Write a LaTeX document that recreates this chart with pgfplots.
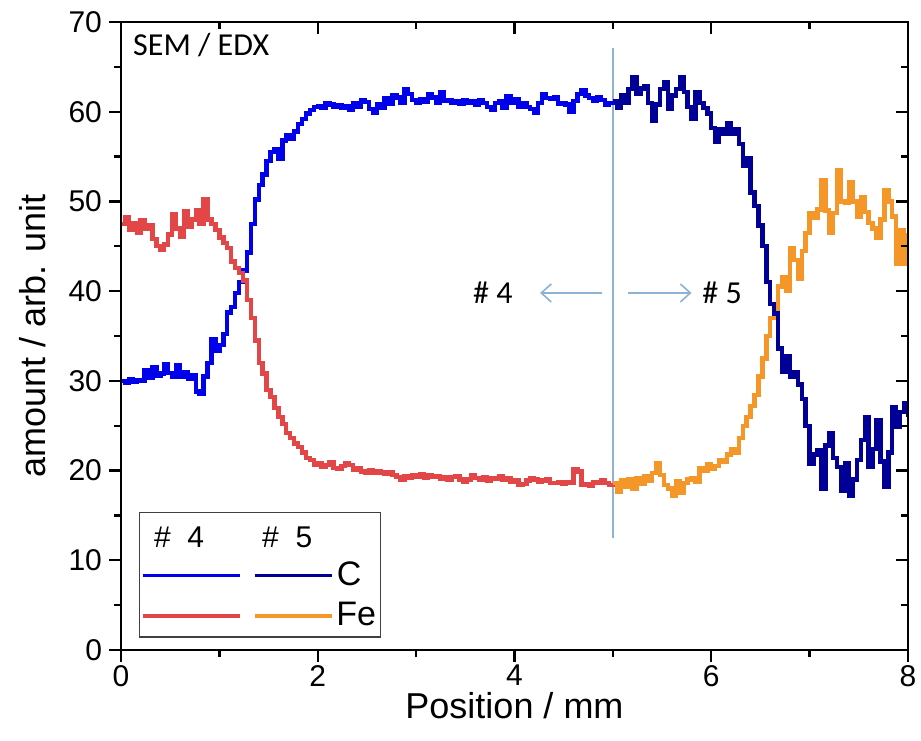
\documentclass[border=0pt]{standalone}
\usepackage{fontspec}
\setmainfont{Liberation Sans}
\newfontfamily\calfont{Carlito}
\usepackage{pgfplots}
\usepackage{pgfplotstable}
\pgfplotsset{compat=1.18}
\usetikzlibrary{arrows.meta}

\definecolor{cfour}{RGB}{0,0,235}
\definecolor{cfive}{RGB}{0,0,150}
\definecolor{ffour}{RGB}{226,70,70}
\definecolor{ffive}{RGB}{245,150,40}
\definecolor{vline}{RGB}{140,178,212}

\pgfplotstableread{
x C Fe
0.00 30.0 47.5
0.04 29.8 48.2
0.08 30.2 46.8
0.12 29.9 47.6
0.16 30.1 46.5
0.20 30.0 47.9
0.24 31.2 46.9
0.28 30.3 47.4
0.32 31.5 45.8
0.36 30.6 45.0
0.40 30.8 44.6
0.44 31.9 45.2
0.48 30.9 46.3
0.52 30.4 48.6
0.56 31.8 47.0
0.60 30.5 46.1
0.64 31.0 48.9
0.68 30.2 47.2
0.72 30.6 48.0
0.76 28.8 49.0
0.80 28.6 47.5
0.84 30.5 50.2
0.88 32.0 48.0
0.92 34.6 47.5
0.96 33.4 46.8
1.00 34.0 46.0
1.04 35.2 45.4
1.08 37.6 44.8
1.12 38.2 43.3
1.16 39.8 42.6
1.20 41.0 42.0
1.24 42.3 41.2
1.28 44.3 39.0
1.32 47.5 37.0
1.36 50.2 34.5
1.40 51.8 32.0
1.44 53.0 30.8
1.48 54.5 29.0
1.52 55.5 28.2
1.56 55.8 27.0
1.60 54.8 26.0
1.64 56.8 25.2
1.68 57.4 24.2
1.72 57.0 23.6
1.76 57.8 23.0
1.80 58.6 22.6
1.84 59.2 22.0
1.88 59.8 21.4
1.92 60.2 21.2
1.96 60.5 20.6
2.00 60.6 20.8
2.04 60.4 20.4
2.08 61.0 20.6
2.12 60.8 20.9
2.16 60.5 20.3
2.20 60.7 20.2
2.24 60.4 20.5
2.28 60.6 20.8
2.32 60.2 20.6
2.36 60.9 20.1
2.40 60.6 20.3
2.44 61.3 19.9
2.48 61.1 19.8
2.52 60.3 20.0
2.56 59.9 19.7
2.60 60.8 19.9
2.64 60.4 19.8
2.68 61.5 19.6
2.72 60.9 19.8
2.76 61.8 19.5
2.80 61.6 19.3
2.84 61.0 19.0
2.88 62.5 19.4
2.92 62.0 19.2
2.96 61.3 19.5
3.00 61.0 19.3
3.04 61.4 19.6
3.08 61.1 19.2
3.12 62.0 19.5
3.16 61.6 19.3
3.20 61.0 19.4
3.24 62.2 19.1
3.28 61.2 19.3
3.32 61.3 19.0
3.36 61.0 19.3
3.40 61.2 19.4
3.44 60.9 19.0
3.48 61.3 18.7
3.52 61.0 19.0
3.56 61.2 19.5
3.60 60.8 19.2
3.64 61.3 19.0
3.68 61.0 19.3
3.72 60.5 18.9
3.76 60.2 19.2
3.80 61.0 19.1
3.84 61.2 19.4
3.88 60.4 19.0
3.92 61.7 19.2
3.96 61.0 18.8
4.00 61.4 18.9
4.04 60.6 18.4
4.08 61.0 18.5
4.12 60.5 18.9
4.16 60.3 19.2
4.20 59.9 19.0
4.24 61.0 18.7
4.28 61.9 18.9
4.32 61.5 19.0
4.36 61.4 18.6
4.40 61.6 18.6
4.44 60.9 18.7
4.48 61.0 18.5
4.52 60.8 18.7
4.56 60.0 18.6
4.60 61.2 20.1
4.64 62.0 19.9
4.68 62.4 18.4
4.72 61.8 18.5
4.76 61.5 18.3
4.80 61.2 18.7
4.84 61.6 18.6
4.88 61.3 18.9
4.92 60.8 18.6
4.96 61.0 18.4
5.00 61.2 18.6
}\sfour

\pgfplotstableread{
x C Fe
5.00 61.2 18.6
5.04 60.4 17.6
5.08 61.8 18.9
5.12 61.0 18.2
5.16 62.5 19.0
5.20 63.8 18.0
5.24 62.0 19.2
5.28 62.6 18.5
5.32 62.8 19.4
5.36 61.0 18.9
5.40 59.0 19.7
5.44 60.8 20.8
5.48 62.5 19.5
5.52 63.3 18.4
5.56 60.3 18.0
5.60 61.8 17.2
5.64 62.5 18.8
5.68 63.9 17.5
5.72 62.2 18.6
5.76 60.5 19.0
5.80 59.2 19.2
5.84 62.2 18.8
5.88 61.0 20.3
5.92 60.4 20.0
5.96 59.8 20.7
6.00 58.2 20.2
6.04 56.6 20.5
6.08 58.0 21.2
6.12 57.5 21.0
6.16 58.7 21.8
6.20 57.5 22.4
6.24 58.0 22.0
6.28 56.4 23.6
6.32 54.0 25.0
6.36 54.8 26.0
6.40 51.0 27.2
6.44 49.5 28.4
6.48 47.3 30.5
6.52 45.0 32.5
6.56 41.0 35.0
6.60 38.6 37.0
6.64 37.5 38.0
6.68 33.6 40.5
6.72 31.0 41.6
6.76 32.8 40.0
6.80 30.4 44.8
6.84 31.0 43.5
6.88 29.6 41.4
6.92 28.0 44.5
6.96 25.0 46.5
7.00 20.8 48.7
7.04 21.8 48.2
7.08 22.3 49.1
7.12 18.0 52.4
7.16 22.8 49.0
7.20 24.2 46.5
7.24 21.4 48.7
7.28 20.4 53.5
7.32 17.8 50.0
7.36 20.8 49.8
7.40 17.2 52.1
7.44 19.0 50.0
7.48 21.2 48.3
7.52 23.4 50.5
7.56 26.0 48.8
7.60 20.4 47.6
7.64 22.4 47.0
7.68 25.6 46.0
7.72 21.0 48.0
7.76 18.2 51.3
7.80 22.0 50.0
7.84 27.1 48.3
7.88 24.9 43.1
7.92 26.5 46.8
7.96 27.5 43.1
8.00 26.0 46.5
}\sfive

\begin{document}
\begin{tikzpicture}
\begin{axis}[
  scale only axis, width=393.5pt, height=314pt,
  xmin=0, xmax=8, ymin=0, ymax=70,
  xtick={0,2,...,8}, ytick={0,10,...,70},
  minor x tick num=1, minor y tick num=1,
  xtick pos=left, ytick pos=left, tick align=outside,
  major tick length=6pt, minor tick length=3.5pt,
  axis line style={line width=1.4pt},
  tick style={line width=1.2pt, black},
  /pgf/number format/assume math mode=true,
  ticklabel style={font=\fontsize{15}{18}\selectfont},
  xticklabel style={yshift=2pt},
  xlabel={Position / mm}, ylabel={amount / arb. unit},
  xlabel style={at={(axis description cs:0.5,-0.089)}, anchor=center, font=\fontsize{18}{21}\selectfont},
  ylabel style={at={(axis description cs:-0.112,0.5)}, anchor=center, font=\fontsize{18}{21}\selectfont},
  clip=true,
]
\draw[vline, line width=0.8pt] (axis cs:5,12.5) -- (axis cs:5,67.1);
\addplot[const plot, cfour, line width=2.2pt] table[x=x, y=C] {\sfour};
\addplot[const plot, ffour, line width=2.2pt] table[x=x, y=Fe] {\sfour};
\addplot[const plot, ffive, line width=2.2pt] table[x=x, y=Fe] {\sfive};
\addplot[const plot, cfive, line width=2.2pt] table[x=x, y=C] {\sfive};

\node[anchor=west, inner sep=0pt, font=\calfont\fontsize{16}{19}\selectfont] at (axis cs:0.12,67.4) {SEM / EDX};

\node[inner sep=0pt, font=\calfont\fontsize{16}{19}\selectfont] at (axis cs:3.78,39.8) {\# 4};
\node[inner sep=0pt, font=\calfont\fontsize{16}{19}\selectfont] at (axis cs:6.11,39.8) {\# 5};
\draw[vline, line width=0.8pt, -{Straight Barb[length=5pt,width=9pt]}] (axis cs:4.89,39.8) -- (axis cs:4.26,39.8);
\draw[vline, line width=0.8pt, -{Straight Barb[length=5pt,width=9pt]}] (axis cs:5.15,39.8) -- (axis cs:5.80,39.8);

% legend
\draw[fill=white, draw=black!75, line width=0.6pt] (axis cs:0.19,1.45) rectangle (axis cs:2.64,15.3);
\node[inner sep=0pt, font=\fontsize{15}{18}\selectfont] at (axis cs:0.59,12.6) {\#\ \ 4};
\node[inner sep=0pt, font=\fontsize{15}{18}\selectfont] at (axis cs:1.69,12.6) {\#\ \ 5};
\draw[cfour, line width=1.8pt] (axis cs:0.22,8.3) -- (axis cs:1.21,8.3);
\draw[cfive, line width=1.8pt] (axis cs:1.36,8.3) -- (axis cs:2.14,8.3);
\draw[ffour, line width=1.8pt] (axis cs:0.22,3.8) -- (axis cs:1.21,3.8);
\draw[ffive, line width=1.8pt] (axis cs:1.36,3.8) -- (axis cs:2.14,3.8);
\node[inner sep=0pt, font=\fontsize{17}{20}\selectfont] at (axis cs:2.32,8.5) {C};
\node[inner sep=0pt, font=\fontsize{17}{20}\selectfont] at (axis cs:2.39,4.0) {Fe};
\end{axis}
\begin{axis}[
  scale only axis, width=393.5pt, height=314pt,
  xmin=0, xmax=8, ymin=0, ymax=70,
  xtick={0,2,...,8}, ytick={0,10,...,70},
  minor x tick num=1, minor y tick num=1,
  xtick pos=right, ytick pos=right, tick align=inside,
  major tick length=6pt, minor tick length=3.5pt,
  axis line style={line width=1.4pt},
  tick style={line width=1.2pt, black},
  xticklabels={}, yticklabels={},
]
\end{axis}
\pgfresetboundingbox
\path (-60.5pt,-45pt) rectangle (400pt,325pt);
\end{tikzpicture}
\end{document}
